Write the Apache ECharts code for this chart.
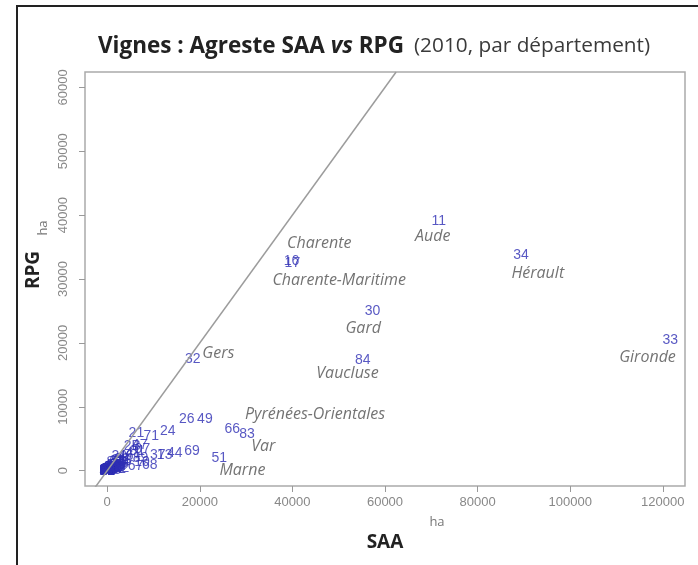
<!DOCTYPE html>
<html>
<head>
<meta charset="utf-8">
<script src="https://cdn.jsdelivr.net/npm/echarts@6.0.0/dist/echarts.min.js"></script>
<style>
html, body { margin: 0; padding: 0; background: #fff; }
#main { width: 698px; height: 565px; }
</style>
</head>
<body>
<div id="main"></div>
<script>
// numéros de département, surface SAA (ha) et surface RPG (ha)
var depts = ['33', '34', '11', '30', '84', '16', '17', '51', '83', '66',
    '49', '26', '32', '69', '44', '13', '37', '24', '71', '21',
    '10', '68', '67', '2B', '47', '81', '07', '89', '41', '82',
    '46', '64', '40', '18', '2A', '58', '02', '73', '39', '45',
    '79', '85', '86', '38', '74', '01', '42', '63', '43', '12',
    '31', '65', '09', '77', '04', '05', '06', '03', '52', '72',
    '36', '70', '54', '57', '55', '19', '14', '22', '27', '28',
    '29', '35', '50', '53', '56', '59', '60', '61', '62', '76',
    '78', '80', '90', '91', '95', '15', '87', '48', '88', '08', '25'];
var saa = [121600, 89400, 71600, 57300, 55200, 39800, 40000, 24200, 30200, 27000,
    21100, 17200, 18500, 18300, 14600, 12400, 10900, 13100, 9500, 6300,
    7500, 9200, 6100, 5400, 7000, 6500, 7600, 7200, 5600, 3200,
    4000, 2100, 2300, 3600, 2800, 1600, 3100, 2100, 2000, 1200,
    2500, 1500, 2200, 1000, 600, 1400, 1000, 900, 300, 1100,
    2600, 900, 400, 300, 900, 300, 200, 600, 300, 500,
    600, 100, 100, 100, 100, 100, 1800, 2400, 3000, 1300,
    800, 2000, 2900, 1600, 0, 0, 0, 0, 0, 0,
    0, 0, 0, 0, 0, 0, 0, 0, 0, 0, 0];
var rpg = [20400, 33700, 39000, 25000, 17300, 32800, 32500, 1900, 5700, 6500,
    8100, 8100, 17400, 3000, 2700, 2500, 2500, 6200, 5400, 5900,
    1300, 900, 700, 3900, 4000, 3100, 3300, 2000, 2700, 1800,
    2300, 1500, 1000, 1500, 2300, 800, 400, 600, 500, 400,
    1400, 1300, 900, 600, 300, 400, 500, 500, 100, 700,
    1700, 400, 200, 0, 600, 100, 100, 200, 100, 300,
    300, 50, 50, 0, 0, 50, 200, 300, 700, 100,
    200, 900, 1100, 600, 0, 0, 0, 0, 0, 0,
    0, 0, 0, 0, 0, 0, 0, 0, 0, 0, 0];

// noms annotés (position en ha)
var noms = ['Charente', 'Charente-Maritime', 'Aude', 'Hérault', 'Gard', 'Vaucluse',
    'Gironde', 'Gers', 'Pyrénées-Orientales', 'Var', 'Marne'];
var nomSaa = [45800, 50100, 70300, 93000, 55300, 51900, 116700, 24000, 44900, 33700, 29200];
var nomRpg = [35500, 29700, 36700, 30900, 22300, 15200, 17700, 18300, 8850, 3800, 0];

var xTicks = [0, 20000, 40000, 60000, 80000, 100000, 120000];
var yTicks = [0, 10000, 20000, 30000, 40000, 50000, 60000];
var diagonale = [-4800, 62400];

var myChart = echarts.init(document.getElementById('main'));

var points = [];
for (var i = 0; i < depts.length; i++) {
    points.push({ value: [saa[i], rpg[i]], name: depts[i] });
}
var etiquettes = [];
for (var j = 0; j < noms.length; j++) {
    etiquettes.push({ value: [nomSaa[j], nomRpg[j]], name: noms[j] });
}

option = {
    animation: false,
    title: {
        left: 93,
        top: 30,
        text: '{b|Vignes : Agreste SAA }{bi|vs}{b| RPG}  {r|(2010, par département)}',
        textStyle: {
            rich: {
                b: { fontFamily: 'Open Sans', fontWeight: 'bold', fontSize: 22.5, color: '#222' },
                bi: { fontFamily: 'Open Sans', fontWeight: 'bold', fontStyle: 'italic', fontSize: 22.5, color: '#222' },
                r: { fontFamily: 'Open Sans', fontWeight: 'normal', fontSize: 20.8, color: '#3a3a3a' }
            }
        }
    },
    grid: {
        left: 85,
        top: 72,
        width: 600,
        height: 414,
        show: true,
        borderColor: '#aaa',
        borderWidth: 1.5
    },
    xAxis: {
        type: 'value',
        min: -4800,
        max: 124800,
        splitLine: { show: false },
        axisLine: { show: false, onZero: false },
        axisTick: { show: true, customValues: xTicks, length: 6, lineStyle: { color: '#999' } },
        axisLabel: {
            customValues: xTicks,
            formatter: function (v) { return String(v); },
            color: '#888',
            fontFamily: 'Liberation Sans',
            fontSize: 13,
            margin: 10
        },
        name: 'SAA',
        nameLocation: 'middle',
        nameGap: 47,
        nameTextStyle: { fontFamily: 'Open Sans', fontWeight: 'bold', fontSize: 19, color: '#222' }
    },
    yAxis: {
        type: 'value',
        min: -2400,
        max: 62400,
        splitLine: { show: false },
        axisLine: { show: false, onZero: false },
        axisTick: { show: true, customValues: yTicks, length: 6, lineStyle: { color: '#999' } },
        axisLabel: {
            customValues: yTicks,
            formatter: function (v) { return String(v); },
            rotate: 90,
            color: '#888',
            fontFamily: 'Liberation Sans',
            fontSize: 13,
            margin: 15
        },
        name: 'RPG',
        nameLocation: 'middle',
        nameGap: 42,
        nameTextStyle: { fontFamily: 'Open Sans', fontWeight: 'bold', fontSize: 19, color: '#222', padding: [0, 0, 0, 18] }
    },
    graphic: [
        {
            type: 'polyline',
            shape: { points: [[17, 565], [17, 6], [698, 6]] },
            style: { stroke: '#222', lineWidth: 2, fill: null }
        },
        {
            type: 'text', x: 437, y: 522,
            style: { text: 'ha', fill: '#777', font: '13px "Open Sans"', textAlign: 'center', textVerticalAlign: 'middle' }
        },
        {
            type: 'text', x: 43, y: 228, rotation: Math.PI / 2,
            style: { text: 'ha', fill: '#777', font: '13px "Open Sans"', textAlign: 'center', textVerticalAlign: 'middle' }
        }
    ],
    series: [
        {
            type: 'line',
            data: [[diagonale[0], diagonale[0]], [diagonale[1], diagonale[1]]],
            symbol: 'none',
            lineStyle: { color: '#9c9c9c', width: 1.5 },
            silent: true
        },
        {
            type: 'scatter',
            data: points,
            symbolSize: 1,
            itemStyle: { color: 'rgba(0,0,0,0)' },
            label: {
                show: true,
                position: 'inside',
                formatter: '{b}',
                color: '#2e2eb4',
                fontFamily: 'Liberation Sans',
                fontSize: 14
            }
        },
        {
            type: 'scatter',
            data: etiquettes,
            symbolSize: 1,
            itemStyle: { color: 'rgba(0,0,0,0)' },
            label: {
                show: true,
                position: 'inside',
                formatter: '{b}',
                color: '#505050',
                fontFamily: 'Open Sans',
                fontStyle: 'italic',
                fontSize: 16
            }
        }
    ]
};

myChart.setOption(option);
</script>
</body>
</html>
